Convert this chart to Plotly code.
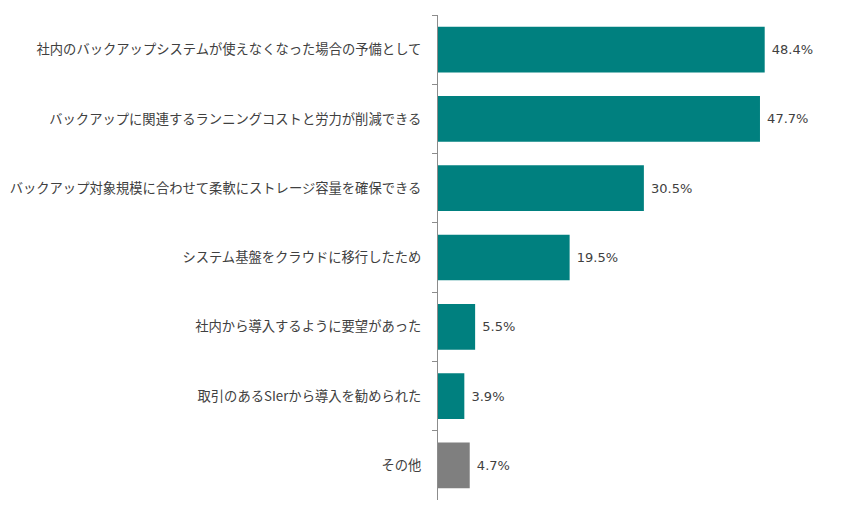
import plotly.graph_objects as go

# Data (top to bottom as displayed)
categories = [
    "社内のバックアップシステムが使えなくなった場合の予備として",
    "バックアップに関連するランニングコストと労力が削減できる",
    "バックアップ対象規模に合わせて柔軟にストレージ容量を確保できる",
    "システム基盤をクラウドに移行したため",
    "社内から導入するように要望があった",
    "取引のあるSIerから導入を勧められた",
    "その他",
]
values = [48.4, 47.7, 30.5, 19.5, 5.5, 3.9, 4.7]
bar_colors = ["#00807F"] * 6 + ["#7F7F7F"]

fig = go.Figure(go.Bar(
    x=values,
    y=categories,
    orientation="h",
    marker=dict(color=bar_colors, line=dict(width=0)),
    text=[f" {v:.1f}%" for v in values],
    textposition="outside",
    textfont=dict(family="DejaVu Sans, Verdana, sans-serif", size=13, color="#404040"),
    cliponaxis=False,
    width=0.66,
))

# page body has an 8px default margin, so the figure is sized to fit inside it
fig.update_layout(
    width=843,
    height=500,
    margin=dict(l=430, r=8, t=7, b=8, autoexpand=False),
    plot_bgcolor="white",
    paper_bgcolor="white",
    font=dict(family="Noto Sans CJK JP, Meiryo, sans-serif", size=13, color="#404040"),
    showlegend=False,
    xaxis=dict(
        range=[0, 60],
        visible=False,
        showgrid=False,
        zeroline=False,
    ),
    yaxis=dict(
        autorange="reversed",
        automargin=False,
        showline=True,
        linecolor="#8C8C8C",
        linewidth=1,
        ticks="outside",
        tickson="boundaries",
        ticklen=5,
        tickcolor="#8C8C8C",
        ticklabelstandoff=13,
        showgrid=False,
        tickfont=dict(size=13.3, color="#404040"),
    ),
)

fig.write_html("out.html")
